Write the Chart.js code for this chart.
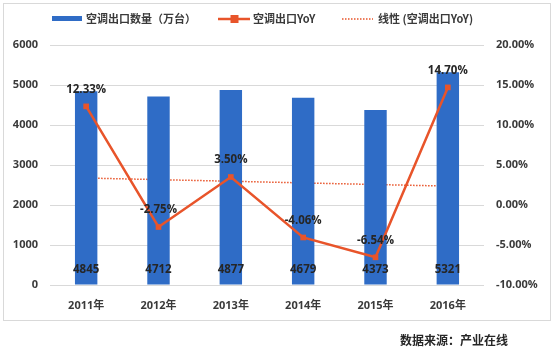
<!DOCTYPE html>
<html>
<head>
<meta charset="utf-8">
<script src="https://cdn.jsdelivr.net/npm/chart.js@4.4.0/dist/chart.umd.min.js"></script>
<style>
  html, body { margin: 0; padding: 0; background: #ffffff; }
  #wrap { position: relative; width: 554px; height: 357px; }
  #source { position: absolute; right: 46px; top: 331px; font: bold 12px "Noto Sans CJK SC", sans-serif; color: #262626; }
</style>
</head>
<body>
<div id="wrap">
  <canvas id="c" width="554" height="357"></canvas>
  <div id="source">数据来源：产业在线</div>
</div>
<script>
const categories = ['2011年', '2012年', '2013年', '2014年', '2015年', '2016年'];
const exportVolume = [4845, 4712, 4877, 4679, 4373, 5321];
const yoyPercent = [12.33, -2.75, 3.50, -4.06, -6.54, 14.70];
const yoyTrend = [3.37, 3.17, 2.97, 2.76, 2.56, 2.36];
const seriesNames = ['空调出口数量（万台）', '空调出口YoY', '线性 (空调出口YoY)'];

const BLUE = '#2f6cc6';
const ORANGE = '#e8542a';
const TEXT = '#3a3a3a';
const FONT = '"Open Sans", "Noto Sans CJK SC", sans-serif';

const framePlugin = {
  id: 'frame',
  beforeDraw(chart) {
    const ctx = chart.ctx;
    ctx.save();
    ctx.strokeStyle = '#d9d9d9';
    ctx.lineWidth = 1;
    ctx.strokeRect(3.5, 3.5, 547, 317);
    ctx.restore();
  }
};

const legendPlugin = {
  id: 'customLegend',
  afterDraw(chart) {
    const ctx = chart.ctx;
    ctx.save();
    ctx.font = 'bold 11px "Noto Sans CJK SC", sans-serif';
    ctx.textBaseline = 'middle';
    const y = 19;
    ctx.fillStyle = BLUE;
    ctx.fillRect(52, y - 3, 30, 5);
    ctx.fillStyle = TEXT;
    ctx.fillText(seriesNames[0], 86, y);
    ctx.strokeStyle = ORANGE;
    ctx.lineWidth = 2.5;
    ctx.beginPath(); ctx.moveTo(218, y); ctx.lineTo(250, y); ctx.stroke();
    ctx.fillStyle = ORANGE;
    ctx.fillRect(230.5, y - 4, 8, 8);
    ctx.fillStyle = TEXT;
    ctx.fillText(seriesNames[1], 253, y);
    ctx.lineWidth = 1.5;
    ctx.setLineDash([1.5, 1.5]);
    ctx.beginPath(); ctx.moveTo(342, y); ctx.lineTo(373, y); ctx.stroke();
    ctx.setLineDash([]);
    ctx.fillText(seriesNames[2], 378, y);
    ctx.restore();
  }
};

const labelPlugin = {
  id: 'valueLabels',
  afterDatasetsDraw(chart) {
    const ctx = chart.ctx;
    ctx.save();
    ctx.font = 'bold 11.5px ' + FONT;
    ctx.fillStyle = '#262626';
    ctx.textAlign = 'center';
    ctx.textBaseline = 'middle';
    const barMeta = chart.getDatasetMeta(1);
    barMeta.data.forEach((el, i) => {
      ctx.fillText(String(exportVolume[i]), el.x, chart.chartArea.bottom - 15);
    });
    const lineMeta = chart.getDatasetMeta(2);
    lineMeta.data.forEach((el, i) => {
      ctx.fillText(yoyPercent[i].toFixed(2) + '%', el.x, el.y - 17);
    });
    ctx.restore();
  }
};

new Chart(document.getElementById('c'), {
  type: 'bar',
  data: {
    labels: categories,
    datasets: [
      {
        type: 'line',
        label: seriesNames[2],
        data: yoyTrend,
        yAxisID: 'y1',
        borderColor: ORANGE,
        borderWidth: 1.5,
        borderDash: [1.5, 1.5],
        pointRadius: 0,
        fill: false,
        order: 3
      },
      {
        type: 'bar',
        label: seriesNames[0],
        data: exportVolume,
        yAxisID: 'y',
        backgroundColor: BLUE,
        barPercentage: 0.31,
        categoryPercentage: 1,
        order: 2
      },
      {
        type: 'line',
        label: seriesNames[1],
        data: yoyPercent,
        yAxisID: 'y1',
        borderColor: ORANGE,
        backgroundColor: ORANGE,
        borderWidth: 2.5,
        pointStyle: 'rect',
        pointRadius: 4,
        pointBorderWidth: 0,
        tension: 0,
        fill: false,
        order: 1
      }
    ]
  },
  options: {
    responsive: false,
    animation: false,
    layout: { padding: { left: 0, right: 0, top: 45, bottom: 42 } },
    plugins: {
      legend: { display: false },
      tooltip: { enabled: false }
    },
    scales: {
      x: {
        grid: { display: false, drawTicks: false },
        border: { display: false },
        ticks: { color: TEXT, font: { family: FONT, size: 11, weight: 'bold' }, padding: 14, maxRotation: 0 },
        afterFit(s) { s.height = 30; }
      },
      y: {
        position: 'left',
        min: 0, max: 6000,
        grid: { color: '#d9d9d9', drawTicks: false },
        border: { display: false },
        ticks: { stepSize: 1000, color: TEXT, font: { family: FONT, size: 11, weight: 'bold' }, padding: 12,
          callback: v => String(v) },
        afterFit(s) { s.width = 50; }
      },
      y1: {
        position: 'right',
        min: -10, max: 20,
        grid: { display: false, drawTicks: false },
        border: { display: false },
        ticks: { stepSize: 5, color: TEXT, font: { family: FONT, size: 11, weight: 'bold' }, padding: 12,
          callback: v => v.toFixed(2) + '%' },
        afterFit(s) { s.width = 70; }
      }
    }
  },
  plugins: [framePlugin, legendPlugin, labelPlugin]
});
</script>
</body>
</html>
